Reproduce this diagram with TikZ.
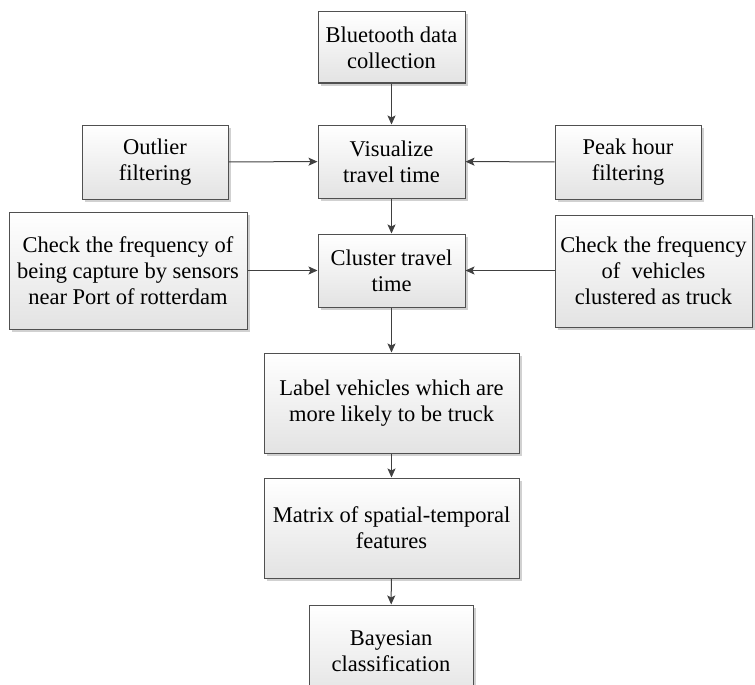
\documentclass[tikz,border=0pt]{standalone}
\usepackage{fontspec}
\setmainfont{Liberation Serif}
\usetikzlibrary{arrows.meta,shadows}
\definecolor{edgec}{HTML}{505050}
\definecolor{arrc}{HTML}{404040}
\tikzset{
  boxnode/.style={draw=edgec, line width=1pt, top color=white, bottom color=black!11,
    inner sep=0pt, align=center, font=\fontsize{22.5}{26}\selectfont,
    drop shadow={shadow xshift=2.5pt, shadow yshift=-2.5pt, fill=black!18, opacity=1}},
  conn/.style={draw=arrc, line width=1pt, -{Stealth[length=9pt,width=8pt,inset=2pt]}}
}
\begin{document}
\begin{tikzpicture}[x=1pt,y=-1pt]
\clip (0,0) rectangle (755,685);
\useasboundingbox (0,0) rectangle (755,685);
\node[boxnode, minimum width=147pt, minimum height=71pt] (blue) at (391.5,47.5) {Bluetooth data\\collection};
\node[boxnode, minimum width=147pt, minimum height=73pt] (vis) at (391.5,161.5) {Visualize\\travel time};
\node[boxnode, minimum width=146pt, minimum height=74pt] (out) at (155,162) {Outlier\\filtering};
\node[boxnode, minimum width=146pt, minimum height=74pt] (peak) at (628,162) {Peak hour\\filtering};
\node[boxnode, minimum width=147pt, minimum height=73pt] (clu) at (391.5,270.5) {Cluster travel\\time};
\node[boxnode, minimum width=238pt, minimum height=117pt] (chkl) at (128,270.5) {Check the frequency of\\being capture by sensors\\near Port of rotterdam};
\node[boxnode, minimum width=197pt, minimum height=112pt] (chkr) at (653.5,271) {Check the frequency\\of~ vehicles\\clustered as truck};
\node[boxnode, minimum width=255pt, minimum height=100pt] (lab) at (391.5,403) {Label vehicles which are\\more likely to be truck};
\node[boxnode, minimum width=255pt, minimum height=100pt] (mat) at (391.5,528) {Matrix of spatial-temporal\\features};
\node[boxnode, minimum width=164pt, minimum height=95pt, text depth=0pt] (bay) at (391,652.5) {\raisebox{20pt}{\begin{tabular}{c}Bayesian\\classification\end{tabular}}};
\draw[conn] (blue) -- (vis);
\draw[conn] (vis) -- (clu);
\draw[conn] (clu) -- (lab);
\draw[conn] (lab) -- (mat);
\draw[conn] (mat) -- (bay);
\draw[conn] (out) -- (vis);
\draw[conn] (peak) -- (vis);
\draw[conn] (chkl.east |- clu.west) -- (clu.west);
\draw[conn] (chkr.west |- clu.east) -- (clu.east);
\end{tikzpicture}
\end{document}
